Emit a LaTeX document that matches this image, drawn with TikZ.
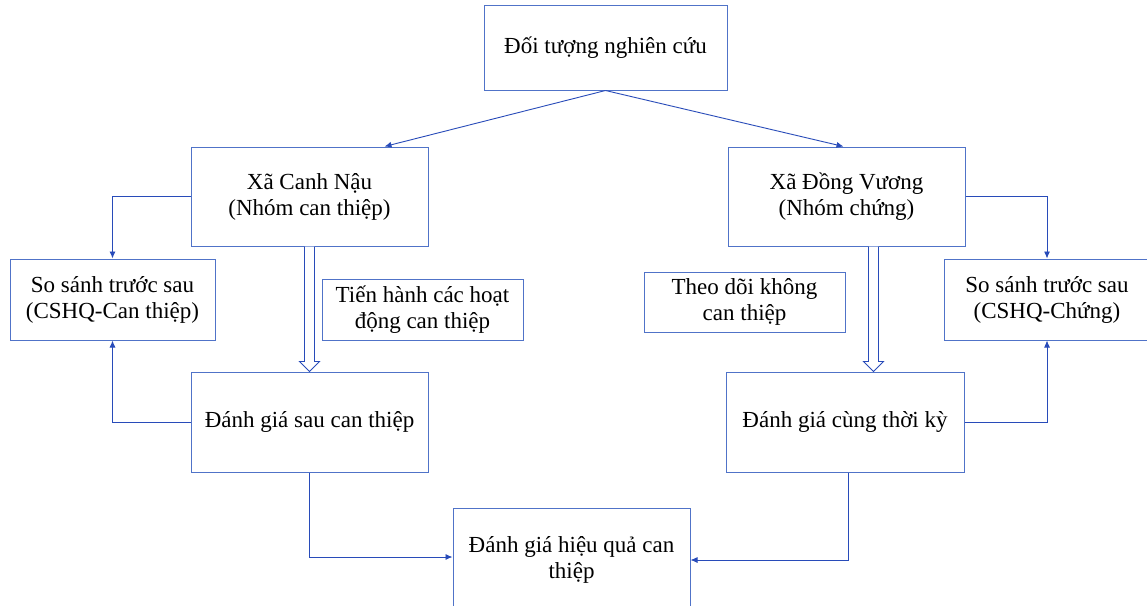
\documentclass[tikz,border=0pt]{standalone}
\usepackage{fontspec}
\setmainfont{Liberation Serif}
\usetikzlibrary{arrows.meta}
\definecolor{boxcol}{RGB}{80,115,200}
\definecolor{linecol}{RGB}{40,75,185}
\tikzset{
  box/.style={draw=boxcol, line width=1pt, rectangle, align=center, inner sep=2pt,
    font=\fontsize{23}{26}\selectfont},
  arr/.style={draw=linecol, line width=0.9pt, -{Latex[length=7pt,width=6pt]}},
  hollow/.style={draw=linecol, line width=0.9pt, fill=white, line join=miter}
}
\begin{document}
\begin{tikzpicture}[x=1pt,y=-1pt]
\clip (0,0) rectangle (1147,605);
\useasboundingbox (0,0) rectangle (1147,605);
\fill[white] (0,0) rectangle (1147,605);

\node[box, minimum width=243pt, minimum height=85pt] (top) at (605.5,47.5) {Đối tượng nghiên cứu};
\node[box, minimum width=237pt, minimum height=99pt] (canh) at (309.5,196.5) {Xã Canh Nậu\\(Nhóm can thiệp)};
\node[box, minimum width=237pt, minimum height=99pt] (dong) at (846.5,196.5) {Xã Đồng Vương\\(Nhóm chứng)};
\node[box, minimum width=205pt, minimum height=81pt] (ssL) at (112.5,299.5) {So sánh trước sau\\(CSHQ-Can thiệp)};
\node[box, minimum width=201pt, minimum height=61pt] (tien) at (422.5,309.5) {Tiến hành các hoạt\\động can thiệp};
\node[box, minimum width=201pt, minimum height=60pt] (theo) at (744.5,302) {Theo dõi không\\can thiệp};
\node[box, minimum width=206pt, minimum height=81pt] (ssR) at (1047,299.5) {So sánh trước sau\\(CSHQ-Chứng)};
\node[box, minimum width=237pt, minimum height=100pt] (dgsau) at (309.5,422) {Đánh giá sau can thiệp};
\node[box, minimum width=238pt, minimum height=100pt] (dgcung) at (845,422) {Đánh giá cùng thời kỳ};
\node[box, minimum width=237pt, minimum height=104pt] (hq) at (571.5,560) {Đánh giá hiệu quả can\\thiệp};

% top split
\draw[arr] (top.south) -- ([xshift=75pt]canh.north);
\draw[arr] (top.south) -- ([xshift=-3pt]dong.north);

% side loops
\draw[arr] (canh.west) -| (ssL.north);
\draw[arr] (dgsau.west) -| (ssL.south);
\draw[arr] (dong.east) -| (ssR.north);
\draw[arr] (dgcung.east) -| (ssR.south);

% to bottom
\draw[arr] (dgsau.south) |- ([yshift=3pt]hq.west);
\draw[arr] ([xshift=3pt]dgcung.south) |- (hq.east);

% hollow arrows
\draw[hollow] ([xshift=-5pt]canh.south) -- ([xshift=-5pt,yshift=10pt]dgsau.north)
  -- ([xshift=-10pt,yshift=10pt]dgsau.north) -- (dgsau.north)
  -- ([xshift=10pt,yshift=10pt]dgsau.north) -- ([xshift=5pt,yshift=10pt]dgsau.north)
  -- ([xshift=5pt]canh.south);
\draw[hollow] ([xshift=22pt]dong.south) -- ([xshift=23.5pt,yshift=10pt]dgcung.north)
  -- ([xshift=18.5pt,yshift=10pt]dgcung.north) -- ([xshift=28.5pt]dgcung.north)
  -- ([xshift=38.5pt,yshift=10pt]dgcung.north) -- ([xshift=33.5pt,yshift=10pt]dgcung.north)
  -- ([xshift=32pt]dong.south);
\end{tikzpicture}
\end{document}
